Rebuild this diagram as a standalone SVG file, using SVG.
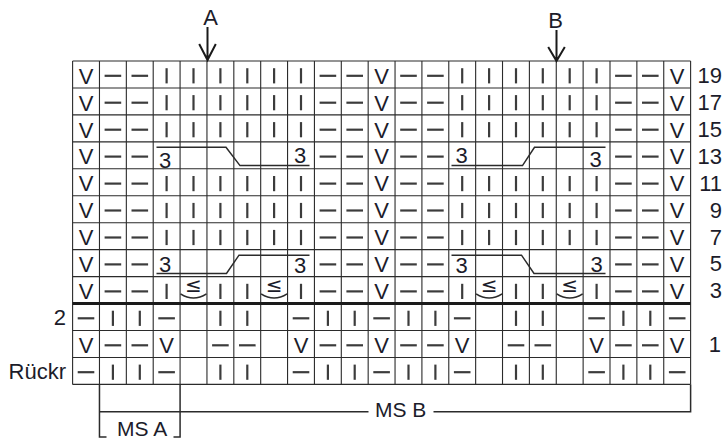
<svg xmlns="http://www.w3.org/2000/svg" xmlns:xlink="http://www.w3.org/1999/xlink" width="723" height="440" viewBox="0 0 723 440">
<style>
.grid{stroke:#2b2b2b;stroke-width:1.1;fill:none}
.thick{stroke:#1a1a1a;stroke-width:3;fill:none}
.sym{stroke:#3c3c3c;stroke-width:2.2;fill:none}
.v{font-family:"Liberation Sans",Arial,sans-serif;font-size:22px;fill:#1c1c2a;text-anchor:middle}
.lab{font-family:"Liberation Sans",Arial,sans-serif;font-size:22px;fill:#1c1c2a}
.end{text-anchor:end}
.mid{text-anchor:middle}
.le{font-family:"DejaVu Sans",sans-serif;font-size:20px;fill:#1c1c2a;text-anchor:middle}
.ln{stroke:#2b2b2b;stroke-width:1.5;fill:none}
.arr{stroke:#1a1a1a;stroke-width:2;fill:none}
</style>
<defs>
<line id="d" class="sym" x1="-8.3" y1="0" x2="8.3" y2="0"/>
<line id="b" class="sym" x1="0" y1="-7.6" x2="0" y2="7.6"/>
<path id="arc" class="ln" d="M-13,0 Q0,8.5 13,0"/>
<g id="dashV">
<use href="#d" x="112.9"/><use href="#d" x="139.8"/><use href="#d" x="327.9"/><use href="#d" x="354.7"/><use href="#d" x="408.5"/><use href="#d" x="435.4"/><use href="#d" x="623.4"/><use href="#d" x="650.3"/>
</g>
<g id="bars6">
<use href="#b" x="166.6"/><use href="#b" x="193.5"/><use href="#b" x="220.4"/><use href="#b" x="247.3"/><use href="#b" x="274.1"/><use href="#b" x="301.0"/><use href="#b" x="462.2"/><use href="#b" x="489.1"/><use href="#b" x="516.0"/><use href="#b" x="542.8"/><use href="#b" x="569.7"/><use href="#b" x="596.6"/>
</g>
<g id="bars8">
<use href="#b" x="166.6"/><use href="#b" x="220.4"/><use href="#b" x="247.3"/><use href="#b" x="301.0"/><use href="#b" x="462.2"/><use href="#b" x="516.0"/><use href="#b" x="542.8"/><use href="#b" x="596.6"/>
</g>
<g id="rowWS">
<use href="#d" x="86.0"/><use href="#d" x="166.6"/><use href="#d" x="301.0"/><use href="#d" x="381.6"/><use href="#d" x="462.2"/><use href="#d" x="596.6"/><use href="#d" x="677.2"/>
<use href="#b" x="112.9"/><use href="#b" x="139.8"/><use href="#b" x="220.4"/><use href="#b" x="247.3"/><use href="#b" x="327.9"/><use href="#b" x="354.7"/><use href="#b" x="408.5"/><use href="#b" x="435.4"/><use href="#b" x="516.0"/><use href="#b" x="542.8"/><use href="#b" x="623.4"/><use href="#b" x="650.3"/>
</g>
<g id="row1d">
<use href="#d" x="112.9"/><use href="#d" x="139.8"/><use href="#d" x="220.4"/><use href="#d" x="247.3"/><use href="#d" x="327.9"/><use href="#d" x="354.7"/><use href="#d" x="408.5"/><use href="#d" x="435.4"/><use href="#d" x="516.0"/><use href="#d" x="542.8"/><use href="#d" x="623.4"/><use href="#d" x="650.3"/>
</g>
</defs>
<rect width="723" height="440" fill="#ffffff"/>

<g id="grid">
<path class="grid" d="M72.6,61H690.6M72.6,87.95H690.6M72.6,114.9H690.6M72.6,141.85H690.6M72.6,168.8H690.6M72.6,195.75H690.6M72.6,222.7H690.6M72.6,249.65H690.6M72.6,276.6H690.6M72.6,330.5H690.6M72.6,357.45H690.6M72.6,384.4H690.6"/>
<path class="grid" d="M72.6,61V384.4M99.47,61V384.4M126.34,61V384.4M153.21,61V384.4M180.08,61V384.4M206.95,61V384.4M233.82,61V384.4M260.69,61V384.4M287.56,61V384.4M314.43,61V384.4M341.3,61V384.4M368.17,61V384.4M395.04,61V384.4M421.91,61V384.4M448.78,61V384.4M475.65,61V384.4M502.52,61V384.4M529.39,61V384.4M556.26,61V384.4M583.13,61V384.4M610,61V384.4M636.87,61V384.4M663.74,61V384.4M690.61,61V384.4"/>
<path class="thick" d="M72.6,303.55H690.6"/>
</g>

<g id="symbols">
<use href="#dashV" y="75.8"/><use href="#bars6" y="75.8"/>
<use href="#dashV" y="102.7"/><use href="#bars6" y="102.7"/>
<use href="#dashV" y="129.7"/><use href="#bars6" y="129.7"/>
<use href="#dashV" y="156.6"/>
<use href="#dashV" y="183.6"/><use href="#bars6" y="183.6"/>
<use href="#dashV" y="210.5"/><use href="#bars6" y="210.5"/>
<use href="#dashV" y="237.5"/><use href="#bars6" y="237.5"/>
<use href="#dashV" y="264.4"/>
<use href="#dashV" y="291.4"/><use href="#bars8" y="291.4"/>
<use href="#rowWS" y="318.3"/>
<use href="#row1d" y="345.3"/>
<use href="#rowWS" y="372.2"/>
</g>

<g id="slips">
<text class="v" x="86.0" y="83.6">V</text><text class="v" x="381.6" y="83.6">V</text><text class="v" x="677.2" y="83.6">V</text>
<text class="v" x="86.0" y="110.5">V</text><text class="v" x="381.6" y="110.5">V</text><text class="v" x="677.2" y="110.5">V</text>
<text class="v" x="86.0" y="137.5">V</text><text class="v" x="381.6" y="137.5">V</text><text class="v" x="677.2" y="137.5">V</text>
<text class="v" x="86.0" y="164.4">V</text><text class="v" x="381.6" y="164.4">V</text><text class="v" x="677.2" y="164.4">V</text>
<text class="v" x="86.0" y="191.4">V</text><text class="v" x="381.6" y="191.4">V</text><text class="v" x="677.2" y="191.4">V</text>
<text class="v" x="86.0" y="218.3">V</text><text class="v" x="381.6" y="218.3">V</text><text class="v" x="677.2" y="218.3">V</text>
<text class="v" x="86.0" y="245.3">V</text><text class="v" x="381.6" y="245.3">V</text><text class="v" x="677.2" y="245.3">V</text>
<text class="v" x="86.0" y="272.2">V</text><text class="v" x="381.6" y="272.2">V</text><text class="v" x="677.2" y="272.2">V</text>
<text class="v" x="86.0" y="299.2">V</text><text class="v" x="381.6" y="299.2">V</text><text class="v" x="677.2" y="299.2">V</text>
<text class="v" x="86.0" y="353.1">V</text><text class="v" x="166.6" y="353.1">V</text><text class="v" x="301.0" y="353.1">V</text><text class="v" x="381.6" y="353.1">V</text><text class="v" x="462.2" y="353.1">V</text><text class="v" x="596.6" y="353.1">V</text><text class="v" x="677.2" y="353.1">V</text>
</g>

<g id="decreases">
<text class="le" x="193.5" y="291.5">≤</text><use href="#arc" x="193.5" y="293.8"/>
<text class="le" x="274.1" y="291.5">≤</text><use href="#arc" x="274.1" y="293.8"/>
<text class="le" x="489.1" y="291.5">≤</text><use href="#arc" x="489.1" y="293.8"/>
<text class="le" x="569.7" y="291.5">≤</text><use href="#arc" x="569.7" y="293.8"/>
</g>

<g id="cables">
<path class="ln" d="M156.5,147.35H226L240,165.6H309.5"/>
<path class="ln" d="M451.5,165.6H522.5L534.5,147.35H605.5"/>
<path class="ln" d="M156.5,273.4H226.5L239,255.15H309.5"/>
<path class="ln" d="M451.5,255.15H521.5L534,273.4H605.5"/>
<text class="lab mid" x="165" y="167.5">3</text><text class="lab mid" x="300" y="163">3</text>
<text class="lab mid" x="461.5" y="163">3</text><text class="lab mid" x="595.5" y="167">3</text>
<text class="lab mid" x="165" y="271.5">3</text><text class="lab mid" x="300" y="273">3</text>
<text class="lab mid" x="461.5" y="273">3</text><text class="lab mid" x="596.5" y="271.5">3</text>
</g>

<g id="row-labels">
<text class="lab end" x="722" y="82.8">19</text>
<text class="lab end" x="722" y="109.7">17</text>
<text class="lab end" x="722" y="136.7">15</text>
<text class="lab end" x="722" y="163.6">13</text>
<text class="lab end" x="722" y="190.6">11</text>
<text class="lab end" x="722" y="217.5">9</text>
<text class="lab end" x="722" y="244.5">7</text>
<text class="lab end" x="722" y="271.4">5</text>
<text class="lab end" x="722" y="298.4">3</text>
<text class="lab end" x="721" y="352.3">1</text>
<text class="lab end" x="66" y="325.3">2</text>
<text class="lab end" x="66" y="379.2">Rückr</text>
</g>

<g id="markers">
<text class="lab mid" x="210.5" y="25">A</text>
<path class="arr" d="M207.5,27V61M199.2,44L207.5,60L215.8,44"/>
<text class="lab mid" x="555.5" y="28">B</text>
<path class="arr" d="M556.5,30V61M548.2,47L556.5,61L564.8,47"/>
</g>

<g id="repeats">
<path class="ln" d="M99.47,384.4V437H106.5M180.08,384.4V437H173.5"/>
<path class="ln" d="M99.47,411.7H368.5M433.5,411.7H690.61V384.4"/>
<text class="lab" x="117" y="436" style="font-size:21px">MS A</text>
<text class="lab" x="375" y="417" style="font-size:21px">MS B</text>
</g>
</svg>
